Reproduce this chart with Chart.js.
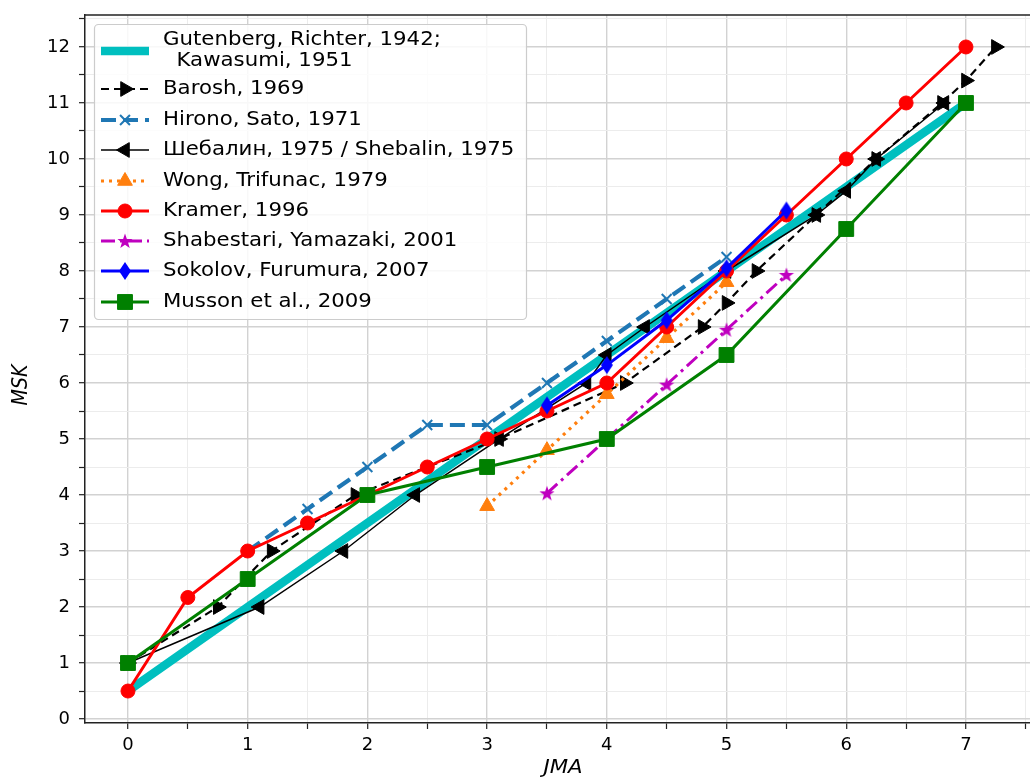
<!DOCTYPE html>
<html>
<head>
<meta charset="utf-8">
<script src="https://cdn.jsdelivr.net/npm/chart.js"></script>
<style>
  body { margin: 0; background: #fff; }
  #wrap { width: 1030px; height: 778px; }
</style>
</head>
<body>
<div id="wrap"><canvas id="chart" width="1030" height="778"></canvas></div>
<script>
// values (x = JMA, y = MSK)
const gutX = [0, 1, 2, 3, 4, 5, 6, 7];
const gutY = [0.5, 2, 3.5, 5, 6.5, 8, 9.5, 11];
const baroshX = [0, 0.75, 1.2, 1.9, 3.1, 4.15, 4.8, 5.0, 5.25, 5.75, 6.25, 6.8, 7.0, 7.25];
const baroshY = [1, 2, 3, 4, 5, 6, 7, 7.43, 8, 9, 10, 11, 11.4, 12];
const hironoX = [1, 1.5, 2, 2.5, 3, 3.5, 4, 4.5, 5];
const hironoY = [3, 3.75, 4.5, 5.25, 5.25, 6, 6.75, 7.5, 8.25];
const shebX = [0, 1.1, 1.8, 2.4, 3.1, 3.83, 4, 4.32, 5, 5.75, 6, 6.25, 6.82];
const shebY = [1, 2, 3, 4, 5, 6, 6.5, 7, 8, 9, 9.43, 10, 11];
const wongX = [3, 3.5, 4, 4.5, 5];
const wongY = [3.8, 4.8, 5.8, 6.8, 7.8];
const kramerX = [0, 0.5, 1, 1.5, 2, 2.5, 3, 3.5, 4, 4.5, 5, 5.5, 6, 6.5, 7];
const kramerY = [0.5, 2.17, 3, 3.5, 4, 4.5, 5, 5.5, 6, 7, 8, 9, 10, 11, 12];
const shabX = [3.5, 4.5, 5, 5.5];
const shabY = [4.03, 5.97, 6.95, 7.93];
const sokX = [3.5, 4, 4.5, 5, 5.5];
const sokY = [5.6, 6.32, 7.12, 8.05, 9.08];
const mussonX = [0, 1, 2, 3, 4, 5, 6, 7];
const mussonY = [1, 2.5, 4, 4.5, 5, 6.5, 8.75, 11];

const labels = [
  ["Gutenberg, Richter, 1942;", "  Kawasumi, 1951"],
  "Barosh, 1969",
  "Hirono, Sato, 1971",
  "Шебалин, 1975 / Shebalin, 1975",
  "Wong, Trifunac, 1979",
  "Kramer, 1996",
  "Shabestari, Yamazaki, 2001",
  "Sokolov, Furumura, 2007",
  "Musson et al., 2009"
];

// filled star and thin diamond markers (like matplotlib '*' and 'd')
function starImg(color) {
  const c = document.createElement("canvas");
  c.width = 18; c.height = 18;
  const g = c.getContext("2d");
  g.beginPath();
  for (let i = 0; i < 10; i++) {
    const r = i % 2 ? 3.2 : 8;
    const a = -Math.PI / 2 + i * Math.PI / 5;
    g.lineTo(9 + r * Math.cos(a), 9.5 + r * Math.sin(a));
  }
  g.closePath();
  g.fillStyle = color;
  g.fill();
  return c;
}
function diamondImg(color) {
  const c = document.createElement("canvas");
  c.width = 14; c.height = 20;
  const g = c.getContext("2d");
  g.beginPath();
  g.moveTo(7, 1); g.lineTo(13, 10); g.lineTo(7, 19); g.lineTo(1, 10);
  g.closePath();
  g.fillStyle = color;
  g.fill();
  return c;
}

function pts(xs, ys) {
  return xs.map((x, i) => ({ x: x, y: ys[i] }));
}

const series = [
  { x: gutX, y: gutY, color: "#00bfbf", width: 8.5, dash: [], style: false, radius: 0 },
  { x: baroshX, y: baroshY, color: "#000000", width: 2.2, dash: [8, 5], style: "triangle", rot: 90, radius: 8.5 },
  { x: hironoX, y: hironoY, color: "#1f77b4", width: 4.2, dash: [15, 7], style: "crossRot", rot: 0, radius: 7, bw: 2 },
  { x: shebX, y: shebY, color: "#000000", width: 1.5, dash: [], style: "triangle", rot: -90, radius: 8.5 },
  { x: wongX, y: wongY, color: "#ff7f0e", width: 3.2, dash: [3, 5], style: "triangle", rot: 0, radius: 8.5 },
  { x: kramerX, y: kramerY, color: "#ff0000", width: 3, dash: [], style: "circle", rot: 0, radius: 7 },
  { x: shabX, y: shabY, color: "#bf00bf", width: 3, dash: [14, 5, 3, 5], style: starImg("#bf00bf"), rot: 0, radius: 8 },
  { x: sokX, y: sokY, color: "#0000ff", width: 3, dash: [], style: diamondImg("#0000ff"), rot: 0, radius: 8 },
  { x: mussonX, y: mussonY, color: "#008000", width: 3, dash: [], style: "rect", rot: 0, radius: 10.5 }
];

const datasets = series.map((s, i) => ({
  label: Array.isArray(labels[i]) ? labels[i].join(" ") : labels[i],
  data: pts(s.x, s.y),
  showLine: true,
  borderColor: s.color,
  backgroundColor: s.color,
  borderWidth: s.width,
  borderDash: s.dash,
  pointStyle: s.style,
  pointRotation: s.rot || 0,
  pointRadius: s.radius,
  pointHoverRadius: s.radius,
  pointBorderWidth: s.bw || 1,
  pointBorderColor: s.color,
  pointBackgroundColor: s.color,
  order: 9 - i
}));

const FONT = "DejaVu Sans";
const STRETCH = 1.12; // the reference text is a little wider than tall

function wideText(ctx, text, x, y) {
  ctx.save();
  ctx.translate(x, y);
  ctx.scale(STRETCH, 1);
  ctx.fillText(text, 0, 0);
  ctx.restore();
}

const decor = {
  id: "decor",
  afterDraw(chart) {
    const ctx = chart.ctx;
    const a = chart.chartArea;
    ctx.save();
    // top spine
    ctx.strokeStyle = "#222";
    ctx.lineWidth = 1.5;
    ctx.beginPath();
    ctx.moveTo(a.left, a.top);
    ctx.lineTo(a.right, a.top);
    ctx.stroke();

    // axis titles
    ctx.fillStyle = "#000";
    ctx.font = "italic 19px '" + FONT + "'";
    ctx.textAlign = "center";
    ctx.textBaseline = "middle";
    wideText(ctx, "JMA", 563, 768);
    ctx.save();
    ctx.translate(21, 385);
    ctx.rotate(-Math.PI / 2);
    ctx.scale(1, STRETCH);
    ctx.fillText("MSK", 0, 0);
    ctx.restore();

    // legend box
    ctx.fillStyle = "rgba(255,255,255,0.85)";
    ctx.strokeStyle = "#cccccc";
    ctx.lineWidth = 1.2;
    ctx.beginPath();
    ctx.roundRect(94.5, 24.5, 432, 295, 4);
    ctx.fill();
    ctx.stroke();

    const rowY = [51, 89, 120, 150, 181, 211, 241, 271, 302];
    ctx.font = "19px '" + FONT + "'";
    ctx.textAlign = "left";
    series.forEach((s, i) => {
      const y = rowY[i];
      ctx.strokeStyle = s.color;
      ctx.fillStyle = s.color;
      ctx.lineWidth = s.width;
      ctx.setLineDash(s.dash);
      ctx.beginPath();
      ctx.moveTo(101, y);
      ctx.lineTo(149, y);
      ctx.stroke();
      ctx.setLineDash([]);
      if (s.style && Chart.helpers && Chart.helpers.drawPoint) {
        ctx.lineWidth = s.bw || 1;
        Chart.helpers.drawPoint(ctx, {
          pointStyle: s.style, rotation: s.rot || 0, radius: s.radius, borderWidth: s.bw || 1
        }, 125, y);
      }
      ctx.fillStyle = "#000";
      if (Array.isArray(labels[i])) {
        wideText(ctx, labels[i][0], 163, y - 11);
        wideText(ctx, labels[i][1], 163, y + 10);
      } else {
        wideText(ctx, labels[i], 163, y);
      }
    });
    ctx.restore();
  }
};

function gridColor(c) {
  const v = c.tick ? c.tick.value : 0;
  return Math.abs(v - Math.round(v)) < 1e-6 ? "#d2d2d2" : "#ececec";
}
function gridWidth(c) {
  const v = c.tick ? c.tick.value : 0;
  return Math.abs(v - Math.round(v)) < 1e-6 ? 1.4 : 1;
}
function intLabel(v) {
  return Math.abs(v - Math.round(v)) < 1e-6 ? String(Math.round(v)) : "";
}

new Chart(document.getElementById("chart"), {
  type: "scatter",
  data: { datasets: datasets },
  options: {
    responsive: false,
    animation: false,
    layout: { autoPadding: false, padding: { top: 15, right: 0, left: 0, bottom: 0 } },
    plugins: { legend: { display: false }, tooltip: { enabled: false } },
    scales: {
      x: {
        type: "linear",
        min: -0.359,
        max: 7.535,
        afterFit: (s) => { s.height = 55; s.paddingLeft = 0; s.paddingRight = 0; },
        ticks: {
          stepSize: 0.5,
          includeBounds: false,
          autoSkip: false,
          maxRotation: 0,
          padding: 6,
          color: "#000",
          font: { family: FONT, size: 18 },
          callback: intLabel
        },
        grid: { color: gridColor, lineWidth: gridWidth, tickColor: "#222", tickLength: 6, tickWidth: 1.2 },
        border: { color: "#222", width: 1.5 }
      },
      y: {
        type: "linear",
        min: -0.071,
        max: 12.571,
        afterFit: (s) => { s.width = 85; s.paddingTop = 0; s.paddingBottom = 0; },
        ticks: {
          stepSize: 0.5,
          includeBounds: false,
          autoSkip: false,
          padding: 9,
          color: "#000",
          font: { family: FONT, size: 18 },
          callback: intLabel
        },
        grid: { color: gridColor, lineWidth: gridWidth, tickColor: "#222", tickLength: 6, tickWidth: 1.2 },
        border: { color: "#222", width: 1.5 }
      }
    }
  },
  plugins: [decor]
});
</script>
</body>
</html>
